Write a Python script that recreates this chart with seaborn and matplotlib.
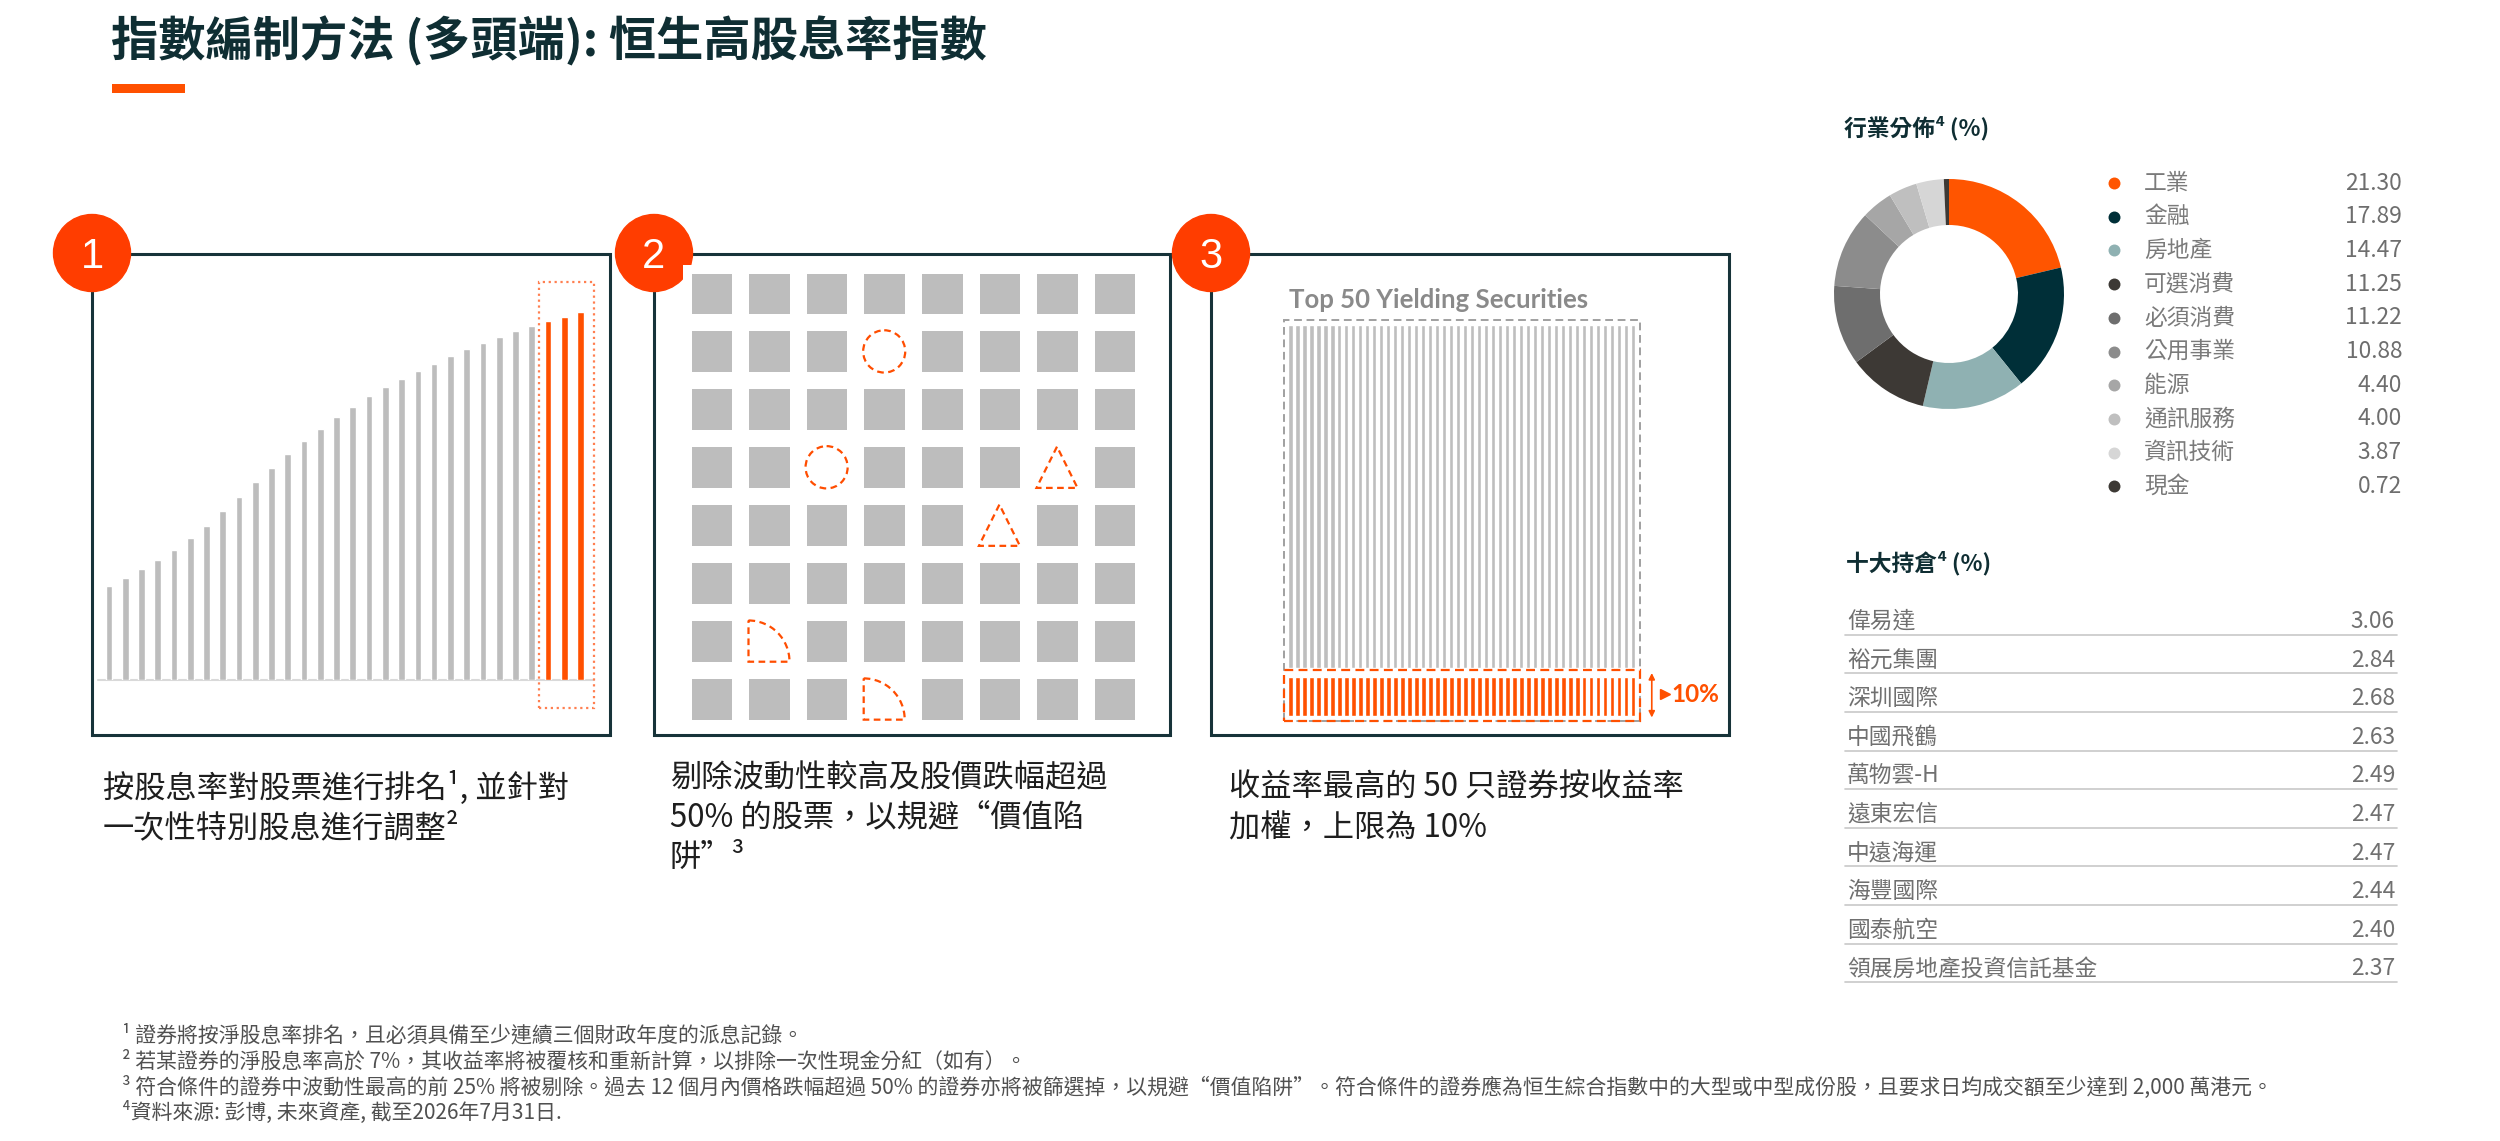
import numpy as np
import pandas as pd
import seaborn as sns
import matplotlib.pyplot as plt
from matplotlib.patches import Rectangle, Circle, Polygon, Wedge, FancyArrowPatch
from matplotlib.colors import ListedColormap

# ---------------- data ----------------
title = "指數編制方法 (多頭端): 恒生高股息率指數"

# step 1: stocks ranked by dividend yield (relative bar heights)
rank_heights = [25.4, 27.7, 30.1, 32.6, 35.3, 38.4, 41.9, 45.8, 49.7, 53.7,
                57.6, 61.3, 64.8, 68.3, 71.4, 74.3, 77.1, 79.5, 81.7, 83.9,
                86.0, 88.0, 89.9, 91.6, 93.3, 94.8, 96.3, 97.5, 98.8, 100.0]
n_highlight = 3

# step 2: 8x8 screening grid, removed cells (row, col, shape)
grid_rows, grid_cols = 8, 8
removed_cells = [(1, 3, "circle"), (3, 2, "circle"), (3, 6, "triangle"),
                 (4, 5, "triangle"), (6, 1, "quarter"), (7, 3, "quarter")]

# step 3: top 50 yielding securities, weight capped at 10%
n_top = 50
cap_weights = [10] * n_top
bar_total = 100

step_labels = ["1", "2", "3"]
step_texts = [
    ["按股息率對股票進行排名¹, 並針對", "一次性特別股息進行調整²"],
    ["剔除波動性較高及股價跌幅超過", "50% 的股票，以規避“價值陷", "阱”³"],
    ["收益率最高的 50 只證券按收益率", "加權，上限為 10%"],
]

sectors = ["工業", "金融", "房地產", "可選消費", "必須消費", "公用事業",
           "能源", "通訊服務", "資訊技術", "現金"]
sector_weights = [21.30, 17.89, 14.47, 11.25, 11.22, 10.88, 4.40, 4.00, 3.87, 0.72]
sector_colors = ["#FF5500", "#002F38", "#8FB1B2", "#3D3935", "#6E6E6E",
                 "#8C8C8C", "#A6A6A6", "#BFBFBF", "#D6D6D6", "#3D3935"]

holdings = ["偉易達", "裕元集團", "深圳國際", "中國飛鶴", "萬物雲-H",
            "遠東宏信", "中遠海運", "海豐國際", "國泰航空", "領展房地產投資信託基金"]
holding_weights = [3.06, 2.84, 2.68, 2.63, 2.49, 2.47, 2.47, 2.44, 2.40, 2.37]

footnotes = [
    "¹ 證券將按淨股息率排名，且必須具備至少連續三個財政年度的派息記錄。",
    "² 若某證券的淨股息率高於 7%，其收益率將被覆核和重新計算，以排除一次性現金分紅（如有）。",
    "³ 符合條件的證券中波動性最高的前 25% 將被剔除。過去 12 個月內價格跌幅超過 50% 的證券亦將被篩選掉，"
    "以規避“價值陷阱”。符合條件的證券應為恒生綜合指數中的大型或中型成份股，且要求日均成交額至少達到 2,000 萬港元。",
    "⁴資料來源: 彭博, 未來資產, 截至2026年7月31日.",
]

# ---------------- style ----------------
TEAL = "#0F2E33"
BOX = "#173339"
ORANGE = "#FF5000"
BADGE = "#FF3D00"
GRAY = "#BDBDBD"

sns.set_theme(style="white")
plt.rcParams['font.family'] = ['Noto Sans CJK TC', 'DejaVu Sans']

W, H = 2500, 1141
fig = plt.figure(figsize=(W / 100, H / 100), dpi=100)
fig.patch.set_facecolor("white")


def px_axes(left, top, right, bottom):
    # axes placed by pixel box (y measured from top)
    a = fig.add_axes([left / W, 1 - bottom / H, (right - left) / W, (bottom - top) / H])
    a.patch.set_alpha(0)
    return a


# canvas in pixel coordinates for text and frames
ax0 = fig.add_axes([0, 0, 1, 1])
ax0.set_xlim(0, W)
ax0.set_ylim(H, 0)
ax0.axis("off")

ax0.text(111, 41, title, fontsize=34, fontweight="bold", color=TEAL, va="center")
ax0.add_patch(Rectangle((112, 84), 73, 9, color=ORANGE, lw=0))

# panel frames + numbered badges
box_left = [92, 654, 1211]
box_right = [609.5, 1170, 1728.5]
box_top, box_bottom = 253.5, 735
text_x = [103, 670, 1229]
text_y0 = [788, 778, 788]
for i in range(3):
    ax0.add_patch(Rectangle((box_left[i], box_top), box_right[i] - box_left[i],
                            box_bottom - box_top, fill=False, ec=BOX, lw=2.2))
    ax0.add_patch(Circle((box_left[i], 253), 38.5, color=BADGE, zorder=5))
    ax0.text(box_left[i], 268, step_labels[i], fontsize=30, color="white",
             ha="center", va="baseline", family="Liberation Sans", zorder=6)
    for k, line in enumerate(step_texts[i]):
        ax0.text(text_x[i], text_y0[i] + 40 * k, line, fontsize=22.5,
                 color="#1E1E1E", va="center")

# ---- panel 1: ranked bars ----
ax1 = px_axes(100.8, 312.2, 588.6, 679.5)
df1 = pd.DataFrame({"rank": range(len(rank_heights)), "yield": rank_heights,
                    "group": ["other"] * (len(rank_heights) - n_highlight) + ["top"] * n_highlight})
sns.barplot(df1, x="rank", y="yield", hue="group", palette={"other": GRAY, "top": ORANGE},
            dodge=False, legend=False, width=0.41, saturation=1, errorbar=None, ax=ax1)
ax1.set_xlim(-0.5, len(rank_heights) - 0.5)
ax1.set_ylim(0, 100)
ax1.axhline(0, xmin=-0.006, xmax=1.011, color="#D9D9D9", lw=1.5, zorder=0, clip_on=False)
n = len(rank_heights)
ax1.add_patch(Rectangle((n - n_highlight - 0.53, -7.7), n_highlight + 0.35, 115.9,
                        fill=False, ls=":", ec="#FF7F50", lw=1.6, clip_on=False))
ax1.axis("off")

# ---- panel 2: screening grid ----
ax2 = px_axes(682.6, 264.5, 1143.4, 728)
grid = np.ones((grid_rows, grid_cols))
mask = np.zeros_like(grid, dtype=bool)
for r, c, _ in removed_cells:
    mask[r, c] = True
sns.heatmap(grid, mask=mask, cmap=ListedColormap(["#BDBDBD"]), cbar=False,
            linewidths=12, linecolor="white", xticklabels=False, yticklabels=False, ax=ax2)
h = 0.356
dash_kw = dict(fill=False, ec="#FF4D00", lw=1.6, ls=(0, (3, 2)), clip_on=False)
for r, c, shape in removed_cells:
    cx, cy = c + 0.5, r + 0.5
    if shape == "circle":
        ax2.add_patch(Circle((cx, cy), 0.365, **dash_kw))
    elif shape == "triangle":
        ax2.add_patch(Polygon([(cx, cy - h), (cx - h, cy + h), (cx + h, cy + h)], closed=True, **dash_kw))
    else:
        ax2.add_patch(Wedge((cx - h, cy + h), 2 * h, 270, 360, **dash_kw))
ax2.set_axis_off()

# ---- panel 3: top 50 securities, capped weights ----
ax0.text(1289, 300, "Top 50 Yielding Securities", fontsize=18.5, fontweight="bold",
         family="Lato", color="#8A8A8A", va="center")
ax3 = px_axes(1287, 325, 1636.8, 716)
df3 = pd.DataFrame({"sec": range(n_top), "cap": cap_weights})
gap = 2.4
sns.barplot(df3, x="sec", y="cap", color=ORANGE, width=0.62, saturation=1,
            errorbar=None, ax=ax3)
sns.barplot(x=df3["sec"], y=[bar_total - w - gap for w in cap_weights],
            bottom=[w + gap for w in cap_weights], color="#BEBEBE", width=0.58,
            saturation=1, errorbar=None, ax=ax3)
ax3.set_xlim(-0.5, n_top - 0.5)
ax3.set_ylim(0, bar_total)
ax3.add_patch(Rectangle((-0.96, -1.33), n_top + 0.86, bar_total + 2.7, fill=False,
                        ec="#A0A0A0", lw=1.4, ls=(0, (4, 2.4)), clip_on=False))
ax3.add_patch(Rectangle((-0.96, -1.33), n_top + 0.86, cap_weights[0] + 3.2, fill=False,
                        ec=ORANGE, lw=1.6, ls=(0, (4, 2.4)), clip_on=False, zorder=4))
ax3.add_patch(FancyArrowPatch((n_top + 1.64, -1.1), (n_top + 1.64, cap_weights[0] + 1.7),
                              arrowstyle="<|-|>", mutation_scale=9, color=ORANGE,
                              lw=1.2, clip_on=False))
ax3.plot(n_top + 3.5, cap_weights[0] / 2 + 0.5, marker=">", ms=7, color=ORANGE, clip_on=False)
ax3.text(n_top + 4.4, cap_weights[0] / 2 + 0.5, f"{cap_weights[0]}%", fontsize=17.5,
         fontweight="bold", family="Lato", color=ORANGE, va="center")
ax3.axis("off")

# ---- sector donut ----
ax0.text(1844, 128, "行業分佈⁴ (%)", fontsize=16.4, fontweight="bold", color=TEAL, va="center")
ax4 = px_axes(1949 - 115, 294 - 115, 1949 + 115, 294 + 115)
ax4.pie(sector_weights, colors=sector_colors, startangle=90, counterclock=False,
        wedgeprops=dict(width=0.4, edgecolor="none"))
ax4.set_xlim(-1, 1)
ax4.set_ylim(-1, 1)
ax4.set_aspect("equal")

for i, (name, val, col) in enumerate(zip(sectors, sector_weights, sector_colors)):
    y = 183 + 33.7 * i
    ax0.scatter(2114, y, s=74, color=col, lw=0)
    ax0.text(2144, y, name, fontsize=16.4, color="#7A7A7A", va="center")
    ax0.text(2402, y, f"{val:.2f}", fontsize=16.4, color="#6E6E6E", va="center", ha="right")

# ---- top ten holdings ----
ax0.text(1846, 563, "十大持倉⁴ (%)", fontsize=16.4, fontweight="bold", color=TEAL, va="center")
for i, (name, val) in enumerate(zip(holdings, holding_weights)):
    y = 621.5 + 38.6 * i
    ax0.text(1847, y, name, fontsize=16.4, color="#707070", va="center")
    ax0.text(2395, y, f"{val:.2f}", fontsize=16.4, color="#707070", va="center", ha="right")
    ax0.plot([1845, 2397], [y + 13.3, y + 13.3], color="#C8C8C8", lw=1.2)

# ---- footnotes ----
for i, note in enumerate(footnotes):
    ax0.text(122, 1036 + 25.5 * i, note, fontsize=15, color="#505050", va="center")

fig.savefig("out.png", dpi=100, facecolor="white")
